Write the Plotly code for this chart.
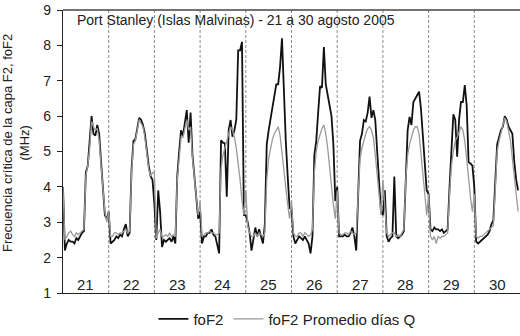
import plotly.graph_objects as go

# ---- data (hourly values, 24 per day) ----
day_labels = ["21", "22", "23", "24", "25", "26", "27", "28", "29", "30"]
first_day = 21

fof2_21 = [4.0, 2.2, 2.4, 2.5, 2.45, 2.45, 2.4, 2.55, 2.5, 2.6, 2.7, 2.75, 4.4, 4.6, 5.2, 6.0, 5.5, 5.45, 5.75, 5.5, 4.7, 3.9, 3.2, 3.1]
fof2_22 = [3.3, 2.4, 2.45, 2.5, 2.6, 2.55, 2.65, 2.6, 2.8, 2.95, 2.6, 2.7, 4.5, 5.3, 5.35, 5.6, 5.95, 5.9, 5.75, 5.5, 5.0, 4.6, 4.3, 4.2]
fof2_23 = [3.5, 2.5, 3.9, 3.3, 2.3, 2.5, 2.45, 2.5, 2.55, 2.45, 2.6, 2.4, 4.3, 5.0, 5.6, 5.45, 5.8, 6.17, 5.25, 6.1, 4.9, 4.3, 3.7, 3.1]
fof2_24 = [3.3, 2.4, 2.6, 2.6, 2.7, 2.7, 2.8, 2.65, 2.6, 2.4, 2.12, 5.32, 5.25, 5.23, 3.72, 5.6, 5.89, 5.42, 5.6, 5.89, 7.86, 7.86, 8.1, 3.2]
fof2_25 = [3.2, 3.0, 2.7, 2.2, 2.5, 2.85, 2.6, 2.8, 2.6, 2.4, 2.95, 5.2, 5.6, 5.9, 6.2, 6.6, 6.9, 6.9, 7.4, 8.2, 6.6, 5.3, 4.3, 3.4]
fof2_26 = [3.4, 2.6, 2.4, 2.5, 2.6, 2.55, 2.5, 2.6, 2.5, 2.4, 2.12, 2.6, 4.9, 5.3, 6.1, 6.85, 6.8, 7.95, 6.9, 6.6, 6.4, 6.0, 5.2, 3.6]
fof2_27 = [4.0, 2.6, 2.6, 2.6, 2.65, 2.6, 2.6, 2.7, 2.85, 2.6, 2.2, 4.0, 5.3, 5.5, 5.89, 5.85, 6.1, 6.55, 5.95, 6.17, 5.89, 5.0, 4.2, 3.3]
fof2_28 = [3.2, 3.9, 2.6, 2.45, 2.55, 2.6, 4.29, 2.6, 2.55, 2.6, 2.65, 2.75, 4.2, 5.6, 5.98, 5.75, 6.4, 6.5, 6.6, 6.69, 6.2, 5.4, 4.6, 3.9]
fof2_29 = [3.8, 2.8, 2.75, 2.85, 2.8, 2.8, 2.75, 2.8, 2.7, 2.75, 2.8, 4.0, 5.2, 6.05, 5.9, 4.85, 5.9, 6.4, 6.4, 6.88, 6.3, 4.7, 4.66, 4.6]
fof2_30 = [4.0, 2.45, 2.4, 2.45, 2.5, 2.55, 2.6, 2.65, 2.75, 2.95, 3.05, 4.0, 5.2, 5.4, 5.6, 5.7, 6.0, 5.9, 5.7, 5.6, 5.5, 4.7, 4.2, 3.9]

q_21 = [4.0, 2.5, 2.6, 2.7, 2.75, 2.65, 2.6, 2.7, 2.65, 2.7, 2.75, 2.8, 4.3, 4.6, 5.1, 5.85, 5.7, 5.6, 5.65, 5.3, 4.6, 3.9, 3.3, 3.0]
q_22 = [3.3, 2.6, 2.6, 2.7, 2.7, 2.65, 2.7, 2.7, 2.75, 2.8, 2.7, 2.75, 4.4, 5.2, 5.3, 5.55, 5.9, 5.8, 5.7, 5.4, 4.9, 4.5, 4.3, 4.4]
q_23 = [4.4, 2.55, 2.7, 2.8, 2.6, 2.6, 2.65, 2.6, 2.7, 2.6, 2.65, 2.6, 4.2, 4.9, 5.4, 5.4, 5.7, 5.9, 5.6, 5.7, 4.8, 4.2, 3.6, 3.2]
q_24 = [3.6, 2.6, 2.65, 2.7, 2.7, 2.75, 2.7, 2.7, 2.65, 2.65, 2.7, 4.5, 4.9, 5.1, 5.3, 5.5, 5.7, 5.6, 5.4, 5.1, 4.7, 4.2, 3.6, 3.2]
q_25 = [3.9, 2.9, 2.7, 2.6, 2.6, 2.7, 2.6, 2.7, 2.65, 2.6, 2.7, 4.2, 4.8, 5.1, 5.35, 5.5, 5.6, 5.7, 5.45, 4.95, 4.4, 3.9, 3.5, 3.1]
q_26 = [3.6, 2.7, 2.6, 2.6, 2.7, 2.7, 2.6, 2.7, 2.65, 2.6, 2.65, 2.8, 4.4, 5.0, 5.3, 5.5, 5.65, 5.75, 5.5, 5.1, 4.5, 4.0, 3.5, 3.1]
q_27 = [3.9, 2.7, 2.65, 2.65, 2.7, 2.7, 2.65, 2.75, 2.7, 2.65, 2.7, 3.6, 4.8, 5.1, 5.35, 5.5, 5.65, 5.7, 5.6, 5.4, 4.9, 4.3, 3.7, 3.2]
q_28 = [4.2, 3.3, 2.7, 2.6, 2.65, 2.7, 2.7, 2.6, 2.65, 2.6, 2.7, 2.8, 4.2, 4.9, 5.2, 5.4, 5.6, 5.7, 5.7, 5.5, 5.0, 4.4, 3.8, 3.2]
q_29 = [3.8, 2.6, 2.5, 2.6, 2.4, 2.6, 2.55, 2.6, 2.6, 2.65, 2.7, 3.8, 4.6, 5.0, 5.3, 5.4, 5.55, 5.7, 5.6, 5.3, 4.8, 4.2, 3.7, 3.3]
q_30 = [3.8, 2.6, 2.55, 2.6, 2.6, 2.65, 2.7, 2.75, 2.8, 2.85, 2.9, 3.9, 5.0, 5.3, 5.5, 5.7, 5.95, 5.85, 5.6, 5.3, 4.8, 4.2, 3.8, 3.3]

fof2_days = [fof2_21, fof2_22, fof2_23, fof2_24, fof2_25, fof2_26, fof2_27, fof2_28, fof2_29, fof2_30]
q_days = [q_21, q_22, q_23, q_24, q_25, q_26, q_27, q_28, q_29, q_30]

title_text = "Port Stanley (Islas Malvinas) - 21 a 30 agosto 2005"
ytitle = "Frecuencia crítica de la capa F2, foF2<br>(MHz)"

# ---- build x (days as fractional) ----
x = []
fof2 = []
qavg = []
for d in range(len(day_labels)):
    for h in range(24):
        x.append(first_day + d + h / 24.0)
        fof2.append(fof2_days[d][h])
        qavg.append(q_days[d][h])

FONT = "Liberation Sans, Arial, sans-serif"
TXT = "#222222"

fig = go.Figure()
fig.add_trace(go.Scatter(x=x, y=fof2, mode="lines", name="foF2",
                         line=dict(color="#111111", width=1.8)))
fig.add_trace(go.Scatter(x=x, y=qavg, mode="lines", name="foF2 Promedio días Q",
                         line=dict(color="#9a9a9a", width=1.3)))

# day separators
for d in range(1, len(day_labels)):
    fig.add_shape(type="line", xref="x", yref="paper", x0=first_day + d, x1=first_day + d,
                  y0=0, y1=1, line=dict(color="#8a8a8a", width=1, dash="3px,2px"), layer="below")

# day labels
for d, lab in enumerate(day_labels):
    fig.add_annotation(x=first_day + d + 0.5, y=1.25, xref="x", yref="y", text=lab,
                       showarrow=False, font=dict(size=15, color=TXT, family=FONT),
                       xanchor="center", yanchor="middle")

# top border line
fig.add_shape(type="line", xref="paper", yref="paper", x0=0, x1=1, y0=1, y1=1,
              line=dict(color="#444444", width=1.5))

fig.add_annotation(x=0.026, y=0.963, xref="paper", yref="paper", text=title_text,
                   showarrow=False, xanchor="left", yanchor="middle",
                   font=dict(size=14, color=TXT, family=FONT))

fig.add_annotation(x=-0.103, y=0.53, xref="paper", yref="paper", text=ytitle,
                   showarrow=False, textangle=-90, xanchor="center", yanchor="middle",
                   align="center", font=dict(size=13, color=TXT, family=FONT))

fig.update_layout(
    width=520, height=336,
    margin=dict(l=63, r=0, t=10, b=43),
    paper_bgcolor="white", plot_bgcolor="white",
    showlegend=True,
    legend=dict(orientation="h", x=0.49, xanchor="center", y=-0.092, yanchor="middle",
                font=dict(size=15, color=TXT, family=FONT), bgcolor="rgba(0,0,0,0)"),
    xaxis=dict(range=[first_day, first_day + len(day_labels)], showgrid=False, zeroline=False,
               showticklabels=False, ticks="", showline=True, linecolor="#222222", linewidth=1.3),
    yaxis=dict(range=[1, 9], dtick=1, showgrid=False, zeroline=False, ticks="outside",
               ticklen=5, tickcolor="#222222", showline=True, linecolor="#222222", linewidth=1.3,
               ticklabelstandoff=3,
               tickfont=dict(size=14, color=TXT, family=FONT)),
)

fig.write_html("out.html")
